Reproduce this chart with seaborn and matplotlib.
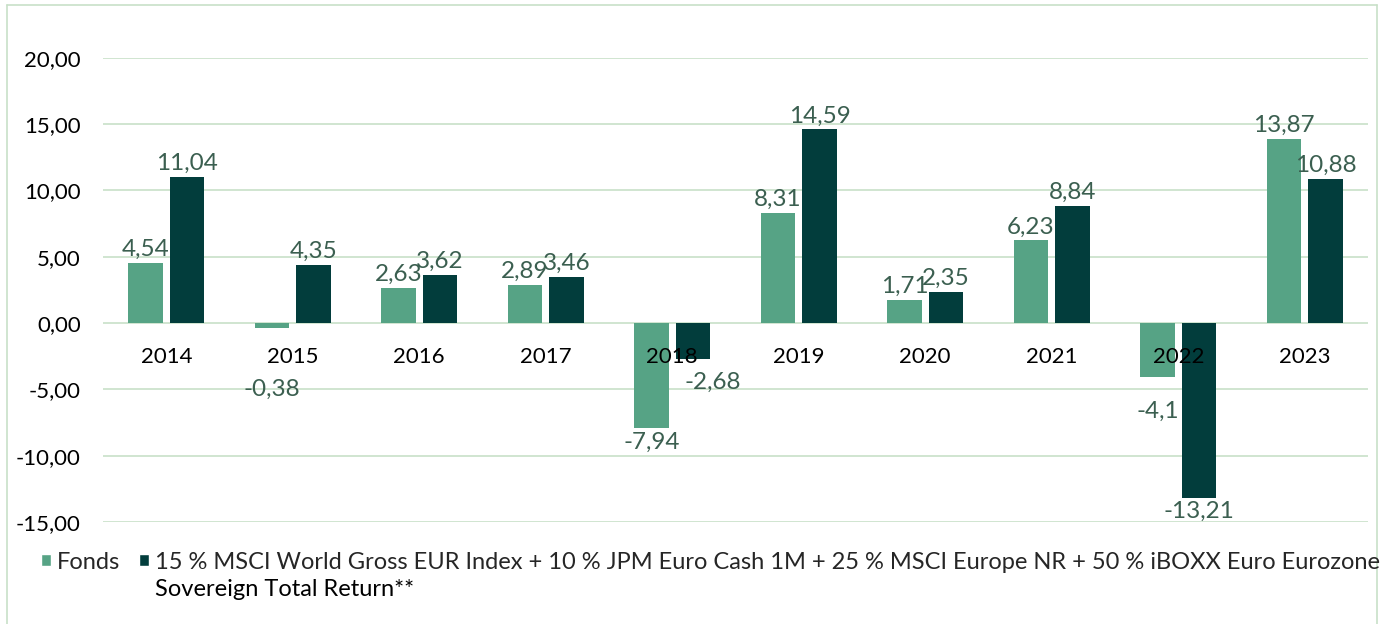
import pandas as pd
import numpy as np
import seaborn as sns
import matplotlib.pyplot as plt
from matplotlib.patches import Patch
from matplotlib.lines import Line2D

# ========= Data =========
years = ["2014", "2015", "2016", "2017", "2018", "2019", "2020", "2021", "2022", "2023"]
fonds = [4.54, -0.38, 2.63, 2.89, -7.94, 8.31, 1.71, 6.23, -4.1, 13.87]
benchmark = [11.04, 4.35, 3.62, 3.46, -2.68, 14.59, 2.35, 8.84, -13.21, 10.88]

series_names = ["Fonds",
                "15 % MSCI World Gross EUR Index + 10 % JPM Euro Cash 1M + 25 % MSCI Europe NR + 50 % iBOXX Euro Eurozone"]
legend_line2 = "Sovereign Total Return**"
y_ticks = [-15, -10, -5, 0, 5, 10, 15, 20]

# ========= Styles =========
c_fonds = "#56a385"
c_bench = "#023d3c"
c_grid = "#c8e0c8"
c_label = "#3b5f50"

sns.set_style("white")
plt.rcParams['font.family'] = ['Lato', 'DejaVu Sans']

df = pd.DataFrame({
    "year": years * 2,
    "value": fonds + benchmark,
    "series": [series_names[0]] * len(years) + [series_names[1]] * len(years),
})

fig = plt.figure(figsize=(13.86, 6.24), dpi=100)
ax = fig.add_axes([103 / 1386, 1 - 522 / 624, (1368 - 103) / 1386, (522 - 57.7) / 624])

# gridlines below the bars
for t in y_ticks:
    ax.axhline(t, color=c_grid, linewidth=1.2, zorder=0)

sns.barplot(data=df, x="year", y="value", hue="series",
            palette=[c_fonds, c_bench], width=0.66, gap=0.17,
            saturation=1, linewidth=0, errorbar=None, legend=False, ax=ax)

# value labels (Excel pushed a few negative labels away from the year labels)
extra_pad = {(0, 1): (0, 48), (0, 8): (0, 20), (1, 4): (20, 10)}
for i, cont in enumerate(ax.containers):
    for j, (bar, v) in enumerate(zip(cont, cont.datavalues)):
        txt = str(v).replace(".", ",")
        dx, dy = extra_pad.get((i, j), (0, 0))
        pad = 3 + dy
        off = pad if v >= 0 else -pad
        ax.annotate(txt, (bar.get_x() + bar.get_width() / 2, v),
                    xytext=(dx, off), textcoords="offset pixels",
                    ha="center", va="bottom" if v >= 0 else "top",
                    fontsize=17.5, color=c_label, zorder=4)

ax.set_ylim(-15, 20)
ax.set_xlim(-0.5, len(years) - 0.5)
ax.set_yticks(y_ticks)
ax.set_yticklabels([f"{t:.2f}".replace(".", ",") for t in y_ticks])
ax.set_axisbelow(False)

for s in ["top", "right", "left", "bottom"]:
    ax.spines[s].set_visible(False)

ax.tick_params(axis="y", length=0, pad=16, labelsize=16, labelcolor="black")
ax.tick_params(axis="x", length=0, labelsize=16, labelcolor="black")
# year labels sit just under the zero line
ax.spines["bottom"].set_position(("data", 0))
ax.tick_params(axis="x", pad=17)
ax.set_xlabel("")
ax.set_ylabel("")

# ========= Legend =========
handles = [Patch(facecolor=c_fonds), Patch(facecolor=c_bench)]
leg = fig.legend(handles, series_names, ncol=2, loc="upper left",
                 bbox_to_anchor=(29 / 1386, 1 - 540 / 624), frameon=False,
                 fontsize=17, handlelength=0.42, handleheight=0.42,
                 handletextpad=0.25, columnspacing=0.8, borderpad=0)

fig.canvas.draw()
bb = leg.get_texts()[1].get_window_extent()
fig.text(bb.x0 / 1386, 1 - 590 / 624, legend_line2, fontsize=17,
         va="center", ha="left", color="black")

# chart border
fig.add_artist(Line2D([7 / 1386, 7 / 1386], [0, 1 - 5 / 624], color=c_grid, lw=1.2, transform=fig.transFigure))
fig.add_artist(Line2D([1377 / 1386, 1377 / 1386], [0, 1 - 5 / 624], color=c_grid, lw=1.2, transform=fig.transFigure))
fig.add_artist(Line2D([7 / 1386, 1377 / 1386], [1 - 5 / 624, 1 - 5 / 624], color=c_grid, lw=1.2, transform=fig.transFigure))

plt.savefig("out.png", dpi=100)
plt.close()
